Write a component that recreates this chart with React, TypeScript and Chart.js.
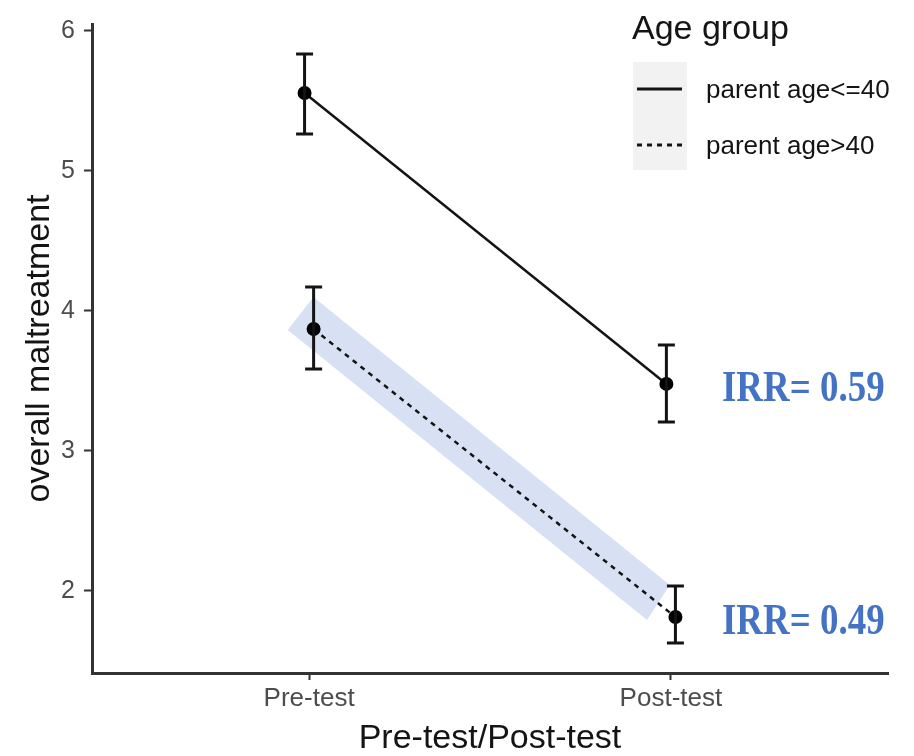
import { useEffect, useRef } from 'react';
import { Chart, registerables } from 'chart.js';

Chart.register(...registerables);

// ---------- data ----------
const categories = ['Pre-test', 'Post-test'];
const categoryPositions = [0, 1];
const seriesLabels = ['parent age<=40', 'parent age>40'];
const seriesDodge = [-0.0125, 0.0125];

const meansYoung = [5.557, 3.479];
const lowerYoung = [5.264, 3.207];
const upperYoung = [5.836, 3.757];

const meansOld = [3.871, 1.814];
const lowerOld = [3.586, 1.629];
const upperOld = [4.171, 2.036];

const irrLabels = ['IRR= 0.59', 'IRR= 0.49'];

const legendTitle = 'Age group';
const xTitle = 'Pre-test/Post-test';
const yTitle = 'overall maltreatment';
const yTicks = [2, 3, 4, 5, 6];
const yMin = 1.414;
const yMax = 6.05;
const xMin = -0.6;
const xMax = 1.6;

// highlighted band around the parent age>40 trend (corner points, data units)
const bandX = [0.012, 0.997, 0.934, -0.059];
const bandY = [4.1, 2.043, 1.793, 3.864];

const seriesMeans = [meansYoung, meansOld];
const seriesLower = [lowerYoung, lowerOld];
const seriesUpper = [upperYoung, upperOld];
const seriesDash: number[][] = [[], [5, 5]];

export default function App() {
  const ref = useRef<HTMLCanvasElement | null>(null);

  useEffect(() => {
    const canvas = ref.current;
    if (!canvas) return;

    const ink = '#141414';

    const bandPlugin = {
      id: 'band',
      beforeDatasetsDraw(chart: any) {
        const { ctx, scales } = chart;
        const xs = scales.x;
        const ys = scales.y;
        ctx.save();
        ctx.beginPath();
        bandX.forEach((bx, i) => {
          const px = xs.getPixelForValue(bx);
          const py = ys.getPixelForValue(bandY[i]);
          if (i === 0) ctx.moveTo(px, py);
          else ctx.lineTo(px, py);
        });
        ctx.closePath();
        ctx.fillStyle = 'rgba(190, 207, 235, 0.62)';
        ctx.fill();
        ctx.restore();
      },
    };

    const errorBarPlugin = {
      id: 'errorbars',
      afterDatasetsDraw(chart: any) {
        const { ctx, scales } = chart;
        const xs = scales.x;
        const ys = scales.y;
        ctx.save();
        ctx.strokeStyle = ink;
        ctx.lineWidth = 3;
        for (let s = 0; s < seriesMeans.length; s++) {
          for (let i = 0; i < categoryPositions.length; i++) {
            const px = xs.getPixelForValue(categoryPositions[i] + seriesDodge[s]);
            const lo = ys.getPixelForValue(seriesLower[s][i]);
            const hi = ys.getPixelForValue(seriesUpper[s][i]);
            ctx.beginPath();
            ctx.moveTo(px, lo);
            ctx.lineTo(px, hi);
            ctx.moveTo(px - 8.5, lo);
            ctx.lineTo(px + 8.5, lo);
            ctx.moveTo(px - 8.5, hi);
            ctx.lineTo(px + 8.5, hi);
            ctx.stroke();
          }
        }
        ctx.restore();
      },
    };

    const irrPlugin = {
      id: 'irr',
      afterDraw(chart: any) {
        const { ctx, scales } = chart;
        const xs = scales.x;
        const ys = scales.y;
        const last = categoryPositions.length - 1;
        ctx.save();
        ctx.fillStyle = '#4472C4';
        ctx.font = 'bold 44px "Liberation Serif", "Times New Roman", serif';
        ctx.textAlign = 'left';
        ctx.textBaseline = 'alphabetic';
        irrLabels.forEach((label, s) => {
          const px = xs.getPixelForValue(categoryPositions[last]) + 51;
          const py = ys.getPixelForValue(seriesMeans[s][last]) + 17;
          ctx.save();
          ctx.translate(px, py);
          ctx.scale(0.84, 1);
          ctx.fillText(label, 0, 0);
          ctx.restore();
        });
        ctx.restore();
      },
    };

    const legendPlugin = {
      id: 'customLegend',
      afterDraw(chart: any) {
        const { ctx } = chart;
        ctx.save();
        ctx.fillStyle = ink;
        ctx.font = '34px "Liberation Sans", Arial, sans-serif';
        ctx.textAlign = 'left';
        ctx.textBaseline = 'alphabetic';
        ctx.fillText(legendTitle, 632, 39);

        const keyLeft = 633;
        const keyW = 54;
        const rowH = 56;
        const firstRowY = 89;
        ctx.fillStyle = '#f2f2f2';
        ctx.fillRect(keyLeft, firstRowY - 27, keyW, rowH * chart.data.datasets.length - 4);

        chart.data.datasets.forEach((ds: any, i: number) => {
          const y = firstRowY + i * rowH;
          ctx.strokeStyle = ink;
          ctx.lineWidth = 3;
          ctx.setLineDash(ds.borderDash || []);
          ctx.beginPath();
          ctx.moveTo(keyLeft + 4, y);
          ctx.lineTo(keyLeft + keyW - 5, y);
          ctx.stroke();
          ctx.setLineDash([]);
          ctx.fillStyle = ink;
          ctx.font = '26px "Liberation Sans", Arial, sans-serif';
          ctx.textBaseline = 'middle';
          ctx.fillText(ds.label, 706, y + 2);
        });
        ctx.restore();
      },
    };

    const datasets = seriesLabels.map((label, s) => ({
      label,
      data: categoryPositions.map((c, i) => ({ x: c + seriesDodge[s], y: seriesMeans[s][i] })),
      showLine: true,
      borderColor: ink,
      borderWidth: 2.5,
      borderDash: seriesDash[s],
      backgroundColor: ink,
      pointRadius: 7,
      pointBackgroundColor: '#000',
      pointBorderWidth: 0,
    }));

    const chart = new Chart(canvas, {
      type: 'scatter',
      data: { datasets },
      plugins: [bandPlugin, errorBarPlugin, irrPlugin, legendPlugin],
      options: {
        animation: false,
        responsive: false,
        layout: { padding: { top: 24, right: 26, left: 0, bottom: 0 } },
        plugins: {
          legend: { display: false },
          tooltip: { enabled: false },
        },
        scales: {
          x: {
            type: 'linear',
            min: xMin,
            max: xMax,
            afterBuildTicks: (scale: any) => {
              scale.ticks = categoryPositions.map((v) => ({ value: v }));
            },
            afterFit: (scale: any) => {
              scale.height = 83;
            },
            ticks: {
              callback: (v: any) => {
                const idx = categoryPositions.indexOf(Number(v));
                return idx >= 0 ? categories[idx] : '';
              },
              color: '#4d4d4d',
              font: { family: '"Liberation Sans", Arial, sans-serif', size: 26 },
              padding: 3,
              maxRotation: 0,
              autoSkip: false,
            },
            grid: {
              drawOnChartArea: false,
              drawTicks: true,
              tickLength: 7,
              tickColor: '#333333',
              tickWidth: 2,
            },
            border: { display: true, color: '#333333', width: 3 },
            title: {
              display: true,
              text: xTitle,
              color: ink,
              font: { family: '"Liberation Sans", Arial, sans-serif', size: 34, lineHeight: 1 },
              padding: { top: 0, bottom: 0 },
            },
          },
          y: {
            type: 'linear',
            min: yMin,
            max: yMax,
            afterBuildTicks: (scale: any) => {
              scale.ticks = yTicks.map((v) => ({ value: v }));
            },
            afterFit: (scale: any) => {
              scale.width = 92;
            },
            ticks: {
              color: '#4d4d4d',
              font: { family: '"Liberation Sans", Arial, sans-serif', size: 25 },
              padding: 9,
            },
            grid: {
              drawOnChartArea: false,
              drawTicks: true,
              tickLength: 8,
              tickColor: '#333333',
              tickWidth: 2,
            },
            border: { display: true, color: '#333333', width: 3 },
            title: {
              display: true,
              text: yTitle,
              color: ink,
              font: { family: '"Liberation Sans", Arial, sans-serif', size: 34, lineHeight: 1 },
              padding: { top: 23, bottom: 0 },
            },
          },
        },
      },
    });

    return () => chart.destroy();
  }, []);

  return (
    <div style={{ position: 'absolute', left: 0, top: 0, width: 914, height: 756, background: '#fff' }}>
      <canvas ref={ref} width={914} height={756} />
    </div>
  );
}
